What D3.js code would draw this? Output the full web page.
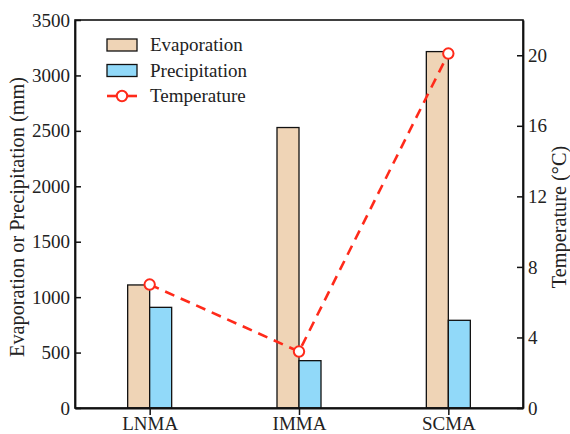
<!DOCTYPE html>
<html>
<head>
<meta charset="utf-8">
<script src="https://cdn.jsdelivr.net/npm/d3@7"></script>
<style>
  body { margin: 0; background: #fff; }
  svg text { font-family: "Liberation Serif", "Times New Roman", serif; fill: #222; }
</style>
</head>
<body>
<svg id="chart" width="570" height="434"></svg>
<script>
// Regional water balance and mean temperature
const regions = ["LNMA", "IMMA", "SCMA"];
const evaporation = [1110, 2530, 3215];
const precipitation = [908, 427, 791];
const temperature = [7.0, 3.2, 20.1];
const leftTicks = [0, 500, 1000, 1500, 2000, 2500, 3000, 3500];
const rightTicks = [0, 4, 8, 12, 16, 20];

const margin = { top: 20, right: 47, bottom: 26, left: 75 };
const W = 570, H = 434;
const iw = W - margin.left - margin.right;
const ih = H - margin.top - margin.bottom;

const svg = d3.select("#chart");
const g = svg.append("g").attr("transform", `translate(${margin.left},${margin.top})`);

const x = d3.scalePoint().domain(regions).range([0, iw]).padding(0.5);
const yL = d3.scaleLinear().domain([0, 3500]).range([ih, 0]);
const yR = d3.scaleLinear().domain([0, 22]).range([ih, 0]);

const barW = 22;
const colors = { evap: "#efd4b6", precip: "#91d9f9", temp: "#ff2a1a" };

// bars
g.selectAll("rect.evap").data(regions).join("rect")
  .attr("class", "evap")
  .attr("x", d => x(d) - barW)
  .attr("width", barW)
  .attr("y", (d, i) => yL(evaporation[i]))
  .attr("height", (d, i) => ih - yL(evaporation[i]))
  .attr("fill", colors.evap).attr("stroke", "#111").attr("stroke-width", 1.3);

g.selectAll("rect.precip").data(regions).join("rect")
  .attr("class", "precip")
  .attr("x", d => x(d))
  .attr("width", barW)
  .attr("y", (d, i) => yL(precipitation[i]))
  .attr("height", (d, i) => ih - yL(precipitation[i]))
  .attr("fill", colors.precip).attr("stroke", "#111").attr("stroke-width", 1.3);

// frame
g.append("rect").attr("x", 0).attr("y", 0).attr("width", iw).attr("height", ih)
  .attr("fill", "none").attr("stroke", "#111").attr("stroke-width", 1.6);

// axes
const fs = "19px";
const axL = g.append("g").call(d3.axisLeft(yL).tickValues(leftTicks).tickFormat(d3.format("d"))
  .tickSizeInner(-6).tickSizeOuter(0).tickPadding(5));
const axR = g.append("g").attr("transform", `translate(${iw},0)`)
  .call(d3.axisRight(yR).tickValues(rightTicks).tickFormat(d3.format("d"))
  .tickSizeInner(-6).tickSizeOuter(0).tickPadding(5));
const axB = g.append("g").attr("transform", `translate(0,${ih})`)
  .call(d3.axisBottom(x).tickSizeInner(7).tickSizeOuter(0).tickPadding(2));
[axL, axR, axB].forEach(a => {
  a.select(".domain").attr("stroke", "#111").attr("stroke-width", 1.8);
  a.selectAll(".tick line").attr("stroke", "#111").attr("stroke-width", 1.5);
  a.selectAll(".tick text").style("font-size", fs).style("font-family", '"Liberation Serif", serif').attr("fill", "#222");
});

// temperature line
const line = d3.line().x((d, i) => x(regions[i])).y(d => yR(d));
g.append("path").datum(temperature)
  .attr("d", line).attr("fill", "none")
  .attr("stroke", colors.temp).attr("stroke-width", 2.6)
  .attr("stroke-dasharray", "10,7");
g.selectAll("circle.temp").data(temperature).join("circle")
  .attr("class", "temp")
  .attr("cx", (d, i) => x(regions[i])).attr("cy", d => yR(d)).attr("r", 5.2)
  .attr("fill", "#fff").attr("stroke", colors.temp).attr("stroke-width", 2);

// axis titles
const titleFs = "20.3px";
svg.append("text")
  .attr("transform", `translate(24,217) rotate(-90)`)
  .attr("text-anchor", "middle").style("font-size", titleFs)
  .text("Evaporation or Precipitation (mm)");
svg.append("text")
  .attr("transform", `translate(566,217) rotate(-90)`)
  .attr("text-anchor", "middle").style("font-size", titleFs)
  .text("Temperature (°C)");

// legend
const lg = svg.append("g").attr("transform", "translate(107,45)");
const legendItems = [
  { label: "Evaporation", type: "rect", color: colors.evap },
  { label: "Precipitation", type: "rect", color: colors.precip },
  { label: "Temperature", type: "line", color: colors.temp }
];
legendItems.forEach((it, i) => {
  const row = lg.append("g").attr("transform", `translate(0,${i * 25.5})`);
  if (it.type === "rect") {
    row.append("rect").attr("x", 0).attr("y", -6).attr("width", 30).attr("height", 12)
      .attr("fill", it.color).attr("stroke", "#111").attr("stroke-width", 1.3);
  } else {
    row.append("line").attr("x1", 0).attr("x2", 30).attr("y1", 0).attr("y2", 0)
      .attr("stroke", it.color).attr("stroke-width", 2.6);
    row.append("circle").attr("cx", 15).attr("cy", 0).attr("r", 5.2)
      .attr("fill", "#fff").attr("stroke", it.color).attr("stroke-width", 2);
  }
  row.append("text").attr("x", 43).attr("y", 6).style("font-size", fs).text(it.label);
});
</script>
</body>
</html>
